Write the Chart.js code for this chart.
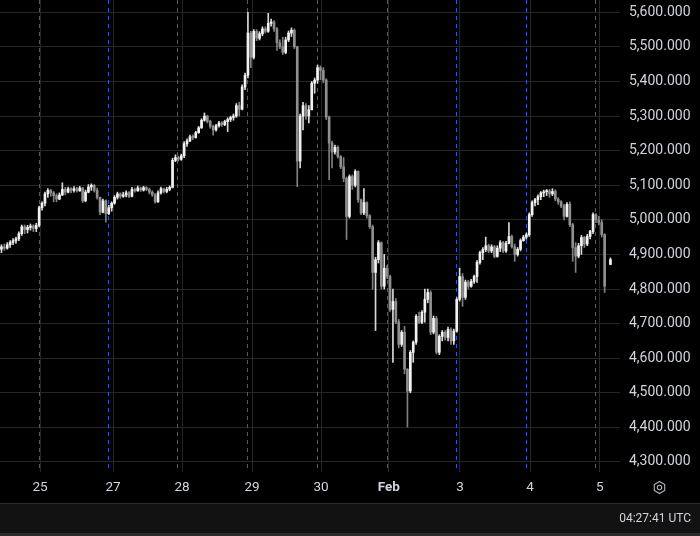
<!DOCTYPE html>
<html>
<head>
<meta charset="utf-8">
<script src="https://cdn.jsdelivr.net/npm/chart.js@4.4.1/dist/chart.umd.min.js"></script>
<style>
  html, body { margin: 0; padding: 0; background: #000; width: 700px; height: 536px; overflow: hidden; font-family: Roboto, "Liberation Sans", sans-serif; }
  #wrap { position: relative; width: 700px; height: 503px; }
  #bar { position: absolute; top: 503px; left: 0; width: 700px; height: 30px; background: #121212; border-top: 1px solid #2a2a2a; box-sizing: border-box; }
  #clock { position: absolute; right: 9px; top: 7px; color: #d1d4dc; font-size: 12px; }
  #foot { position: absolute; top: 533px; left: 0; width: 700px; height: 3px; background: #2b2b2b; }
  #gear { position: absolute; left: 652px; top: 480px; }
</style>
</head>
<body>
<div id="wrap"><canvas id="chart" width="700" height="503"></canvas></div>
<svg id="gear" width="15" height="15" viewBox="0 0 15 15">
  <polygon points="7.5,1.5 12.7,4.5 12.7,10.5 7.5,13.5 2.3,10.5 2.3,4.5" fill="none" stroke="#b2b5be" stroke-width="1.1"/>
  <circle cx="7.5" cy="7.5" r="2.2" fill="none" stroke="#b2b5be" stroke-width="1.1"/>
</svg>
<div id="bar"><span id="clock">04:27:41 UTC</span></div>
<div id="foot"></div>
<script>
// hourly candles, x = hour index (+0.5 for the candle centre)
const opens = [
  4915, 4922, 4918, 4928, 4935, 4940, 4945, 4960, 4980, 4972, 4978, 4982,
  4975, 4984, 5035, 5048, 5075, 5085, 5078, 5070, 5060, 5072, 5088, 5080,
  5090, 5085, 5090, 5084, 5092, 5055, 5080, 5095, 5100, 5085, 5065, 5022,
  5055, 5018, 5035, 5048, 5065, 5075, 5068, 5072, 5078, 5068, 5088, 5084,
  5092, 5086, 5093, 5088, 5080, 5072, 5052, 5078, 5090, 5082, 5088, 5094,
  5172, 5180, 5175, 5185, 5220, 5228, 5240, 5238, 5252, 5266, 5288, 5300,
  5285, 5270, 5260, 5272, 5280, 5275, 5284, 5290, 5296, 5300, 5330, 5320,
  5384, 5418, 5540, 5470, 5545, 5525, 5538, 5552, 5545, 5568, 5572, 5552,
  5512, 5500, 5484, 5520, 5540, 5548, 5500, 5170, 5300, 5330, 5300, 5318,
  5395, 5404, 5440, 5432, 5404, 5297, 5222, 5196, 5210, 5183, 5153, 5120,
  5010, 5125, 5100, 5140, 5058, 5020, 5050, 5012, 4980, 4848, 4885, 4934,
  4808, 4860, 4836, 4741, 4764, 4705, 4640, 4675, 4568, 4505, 4617, 4646,
  4721, 4704, 4733, 4770, 4790, 4675, 4715, 4617, 4663, 4675, 4660, 4683,
  4650, 4678, 4770, 4836, 4776, 4820, 4808, 4822, 4836, 4877, 4905, 4914,
  4925, 4910, 4922, 4894, 4918, 4934, 4910, 4932, 4952, 4922, 4900, 4915,
  4940, 4950, 4957, 5015, 5050, 5058, 5067, 5078, 5081, 5084, 5075, 5082,
  5060, 5052, 5040, 5010, 5045, 4986, 4920, 4895, 4925, 4949, 4930, 4952,
  4966, 5015, 5000, 4992, 4957, null, 4871
];
const highs = [
  4928, 4930, 4934, 4940, 4946, 4950, 4965, 4985, 4985, 4984, 4988, 4986,
  4990, 5040, 5052, 5080, 5090, 5088, 5082, 5075, 5078, 5107, 5094, 5095,
  5093, 5096, 5094, 5097, 5094, 5086, 5102, 5104, 5102, 5092, 5066, 5060,
  5058, 5042, 5052, 5070, 5080, 5078, 5080, 5084, 5082, 5094, 5092, 5098,
  5095, 5097, 5096, 5092, 5084, 5076, 5084, 5095, 5092, 5094, 5098, 5178,
  5188, 5184, 5190, 5226, 5234, 5245, 5246, 5256, 5270, 5292, 5309, 5302,
  5288, 5274, 5276, 5285, 5284, 5288, 5295, 5300, 5306, 5336, 5340, 5390,
  5424, 5600, 5545, 5550, 5550, 5544, 5558, 5558, 5597, 5580, 5576, 5556,
  5520, 5528, 5528, 5546, 5555, 5552, 5502, 5306, 5340, 5336, 5330, 5400,
  5410, 5447, 5445, 5440, 5408, 5300, 5228, 5216, 5214, 5186, 5180, 5124,
  5130, 5130, 5145, 5142, 5060, 5090, 5052, 5015, 4985, 4892, 4940, 4936,
  4900, 4868, 4840, 4800, 4772, 4712, 4680, 4692, 4570, 4622, 4650, 4726,
  4733, 4738, 4800, 4800, 4795, 4722, 4721, 4668, 4680, 4680, 4690, 4688,
  4684, 4775, 4860, 4845, 4826, 4825, 4828, 4840, 4882, 4910, 4920, 4950,
  4930, 4928, 4926, 4925, 4940, 4938, 4938, 4992, 4956, 4930, 4920, 4945,
  4955, 4962, 5020, 5055, 5062, 5072, 5082, 5086, 5088, 5088, 5090, 5087,
  5064, 5056, 5045, 5050, 5052, 4990, 4934, 4932, 4955, 4952, 4958, 4970,
  5020, 5018, 5010, 5000, 4960, null, 4890
];
const lows = [
  4905, 4912, 4915, 4920, 4928, 4932, 4940, 4955, 4960, 4962, 4970, 4966,
  4966, 4980, 5028, 5040, 5065, 5068, 5052, 5052, 5058, 5070, 5072, 5078,
  5078, 5080, 5080, 5082, 5050, 5052, 5078, 5085, 5080, 5060, 5015, 5020,
  4993, 5015, 5025, 5045, 5060, 5062, 5065, 5066, 5064, 5066, 5080, 5082,
  5082, 5083, 5084, 5075, 5068, 5048, 5050, 5074, 5078, 5078, 5084, 5092,
  5168, 5170, 5172, 5180, 5212, 5226, 5232, 5236, 5250, 5264, 5285, 5280,
  5265, 5245, 5256, 5268, 5270, 5272, 5255, 5284, 5288, 5296, 5300, 5318,
  5376, 5410, 5440, 5465, 5518, 5520, 5532, 5540, 5542, 5560, 5545, 5490,
  5495, 5478, 5480, 5515, 5530, 5495, 5096, 5150, 5260, 5290, 5280, 5318,
  5366, 5395, 5405, 5396, 5290, 5116, 5150, 5190, 5178, 5148, 5110, 4943,
  5005, 5088, 5095, 5050, 5015, 5015, 5005, 4975, 4799, 4680, 4875, 4800,
  4800, 4830, 4735, 4588, 4700, 4630, 4634, 4555, 4401, 4500, 4588, 4640,
  4700, 4700, 4704, 4760, 4668, 4670, 4612, 4610, 4650, 4652, 4650, 4640,
  4640, 4675, 4765, 4750, 4770, 4800, 4805, 4816, 4819, 4872, 4885, 4908,
  4905, 4905, 4890, 4892, 4908, 4905, 4906, 4930, 4918, 4880, 4895, 4910,
  4938, 4944, 4952, 5010, 5040, 5044, 5058, 5067, 5070, 5065, 5070, 5055,
  5045, 5035, 5000, 5008, 4980, 4880, 4848, 4890, 4900, 4920, 4925, 4945,
  4960, 4992, 4985, 4950, 4790, null, 4870
];
const closes = [
  4922, 4918, 4928, 4935, 4940, 4945, 4960, 4980, 4972, 4978, 4982, 4975,
  4984, 5035, 5048, 5075, 5085, 5078, 5070, 5060, 5072, 5088, 5080, 5090,
  5085, 5090, 5084, 5092, 5055, 5080, 5095, 5100, 5085, 5065, 5022, 5055,
  5018, 5035, 5048, 5065, 5075, 5068, 5072, 5078, 5068, 5088, 5084, 5092,
  5086, 5093, 5088, 5080, 5072, 5052, 5078, 5090, 5082, 5088, 5094, 5172,
  5180, 5175, 5185, 5220, 5228, 5240, 5238, 5252, 5266, 5288, 5300, 5285,
  5270, 5260, 5272, 5280, 5275, 5284, 5290, 5296, 5300, 5330, 5320, 5384,
  5418, 5540, 5470, 5545, 5525, 5538, 5552, 5545, 5568, 5572, 5552, 5512,
  5500, 5484, 5520, 5540, 5548, 5500, 5170, 5300, 5330, 5300, 5318, 5395,
  5404, 5440, 5432, 5404, 5297, 5222, 5196, 5210, 5183, 5153, 5120, 5010,
  5125, 5100, 5140, 5058, 5020, 5050, 5012, 4980, 4848, 4885, 4934, 4808,
  4860, 4836, 4741, 4764, 4705, 4640, 4675, 4568, 4505, 4617, 4646, 4721,
  4704, 4733, 4770, 4790, 4675, 4715, 4617, 4663, 4675, 4660, 4683, 4650,
  4678, 4770, 4836, 4776, 4820, 4808, 4822, 4836, 4877, 4905, 4914, 4925,
  4910, 4922, 4894, 4918, 4934, 4910, 4932, 4952, 4922, 4900, 4915, 4940,
  4950, 4957, 5015, 5050, 5058, 5067, 5078, 5081, 5084, 5075, 5082, 5060,
  5052, 5040, 5010, 5045, 4986, 4920, 4895, 4925, 4949, 4930, 4952, 4966,
  5015, 5000, 4992, 4957, 4808, null, 4885
];

// x axis: day labels and where they sit (hours), plus session open lines
const dayLabels = ['25', '27', '28', '29', '30', 'Feb', '3', '4', '5'];
const dayTicks = [13.8, 39, 62.8, 86.9, 110.7, 134.1, 158.6, 182.8, 206.8];
const sessionStarts = [13.3, 37.2, 61.1, 85.3, 109.2, 133.3, 157.1, 181.3, 205.1];
const priceTicks = [4300, 4400, 4500, 4600, 4700, 4800, 4900, 5000, 5100, 5200, 5300, 5400, 5500, 5600];

const upBody = [], downBody = [], upWick = [], downWick = [];
closes.forEach((c, i) => {
    if (c == null) return;
    const o = opens[i];
    const x = i + 0.5;
    const body = { x: x, y: [Math.min(o, c), Math.max(o, c)] };
    const wick = { x: x, y: [lows[i], highs[i]] };
    if (c >= o) { upBody.push(body); upWick.push(wick); }
    else { downBody.push(body); downWick.push(wick); }
});

const sessionLines = {
    id: 'sessionLines',
    beforeDatasetsDraw(chart) {
        const { ctx, chartArea, scales } = chart;
        ctx.save();
        ctx.strokeStyle = '#2c5bd6';
        ctx.lineWidth = 1;
        ctx.setLineDash([4, 4]);
        sessionStarts.forEach(h => {
            const px = Math.round(scales.x.getPixelForValue(h)) + 0.5;
            ctx.beginPath();
            ctx.moveTo(px, chartArea.top);
            ctx.lineTo(px, chartArea.bottom);
            ctx.stroke();
        });
        ctx.restore();
    }
};

const ctx = document.getElementById('chart').getContext('2d');
new Chart(ctx, {
    type: 'bar',
    data: {
        datasets: [
            { data: upBody, backgroundColor: '#f2f2f2', barThickness: 2, minBarLength: 1, grouped: false },
            { data: downBody, backgroundColor: '#8f8f8f', barThickness: 2, minBarLength: 1, grouped: false },
            { data: upWick, backgroundColor: '#d8d8d8', barThickness: 1, grouped: false },
            { data: downWick, backgroundColor: '#808080', barThickness: 1, grouped: false }
        ]
    },
    plugins: [sessionLines],
    options: {
        responsive: false,
        animation: false,
        layout: { padding: 0 },
        plugins: { legend: { display: false }, tooltip: { enabled: false } },
        scales: {
            x: {
                type: 'linear',
                min: 0,
                max: 213.8,
                offset: false,
                grid: { color: '#262626', drawTicks: false, offset: false },
                border: { display: false },
                afterBuildTicks: s => { s.ticks = dayTicks.map(v => ({ value: v })); },
                afterFit: s => { s.height = 31; s.paddingLeft = 0; s.paddingRight = 0; },
                ticks: {
                    color: '#d1d4dc',
                    padding: 8,
                    maxRotation: 0,
                    autoSkip: false,
                    font: c => ({ family: 'Roboto, "Liberation Sans", sans-serif', size: 13.5, weight: dayLabels[c.index] === 'Feb' ? 'bold' : 'normal' }),
                    callback: (v, i) => dayLabels[i]
                }
            },
            y: {
                position: 'right',
                min: 4271,
                max: 5635.5,
                grid: { color: '#262626', drawTicks: false },
                border: { display: false },
                afterBuildTicks: s => { s.ticks = priceTicks.map(v => ({ value: v })); },
                afterFit: s => { s.width = 80; s.paddingTop = 0; s.paddingBottom = 0; },
                ticks: {
                    color: '#d1d4dc',
                    padding: 9,
                    font: { family: 'Roboto, "Liberation Sans", sans-serif', size: 14 },
                    callback: v => v.toLocaleString('en-US', { minimumFractionDigits: 3, maximumFractionDigits: 3 })
                }
            }
        }
    }
});
</script>
</body>
</html>
